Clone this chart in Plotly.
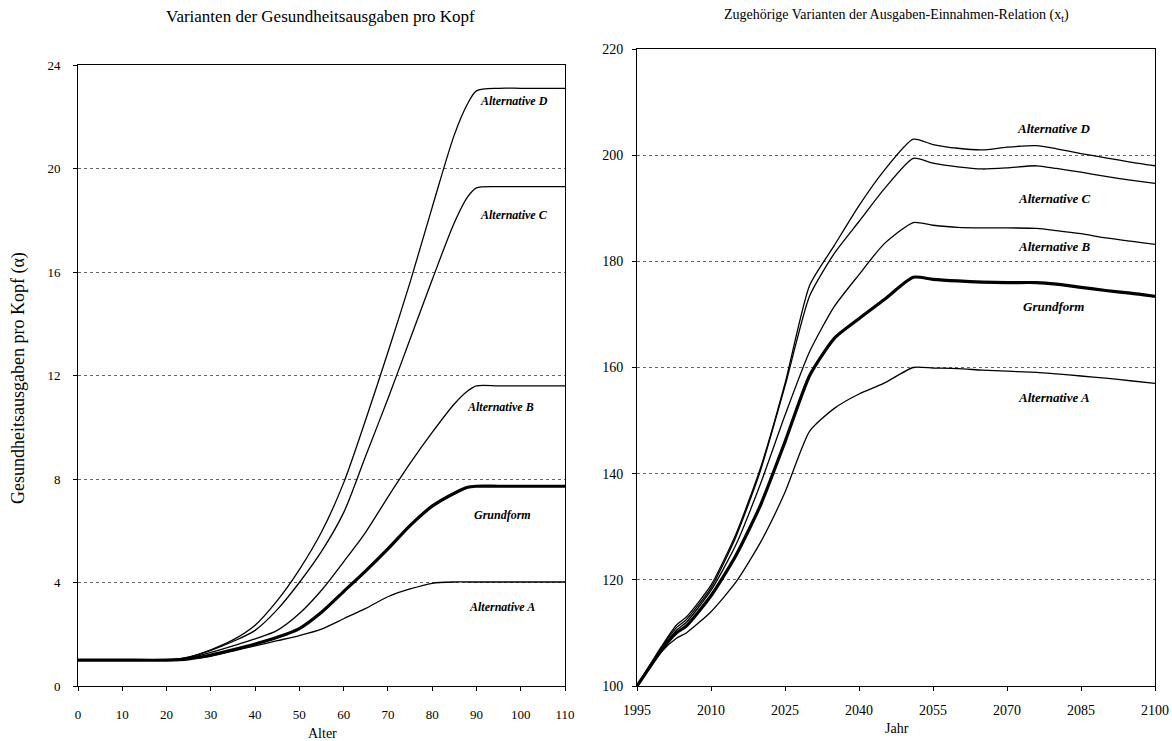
import plotly.graph_objects as go

# ---------- Left chart data: Gesundheitsausgaben pro Kopf (alpha) by age ----------
ages = [0, 10, 20, 25, 30, 35, 40, 45, 50, 55, 60, 65, 70, 75, 80, 85, 88, 90, 95, 100, 105, 110]
left_D = [1, 1, 1, 1.12, 1.4, 1.78, 2.35, 3.3, 4.5, 5.95, 7.85, 10.3, 12.9, 15.6, 18.5, 21.3, 22.5, 23.0, 23.1, 23.1, 23.1, 23.1]
left_C = [1, 1, 1, 1.12, 1.38, 1.72, 2.15, 2.95, 4.0, 5.2, 6.7, 8.9, 11.1, 13.4, 15.7, 17.9, 18.9, 19.25, 19.3, 19.3, 19.3, 19.3]
left_B = [1, 1, 1, 1.08, 1.3, 1.55, 1.82, 2.15, 2.8, 3.7, 4.8, 5.95, 7.3, 8.6, 9.8, 10.9, 11.4, 11.6, 11.6, 11.6, 11.6, 11.6]
left_G = [1, 1, 1, 1.05, 1.2, 1.4, 1.62, 1.88, 2.22, 2.85, 3.65, 4.45, 5.3, 6.2, 6.95, 7.45, 7.68, 7.72, 7.72, 7.72, 7.72, 7.72]
left_A = [1, 1, 1, 1.04, 1.15, 1.35, 1.55, 1.75, 1.95, 2.2, 2.6, 3.0, 3.45, 3.75, 3.97, 4.02, 4.02, 4.02, 4.02, 4.02, 4.02, 4.02]

left_xticks = [0, 10, 20, 30, 40, 50, 60, 70, 80, 90, 100, 110]
left_yticks = [0, 4, 8, 12, 16, 20, 24]

# ---------- Right chart data: Ausgaben-Einnahmen-Relation (x_t) by year ----------
years = [1995, 2000, 2003, 2005, 2010, 2015, 2020, 2025, 2030, 2035, 2040, 2045, 2051,
         2055, 2060, 2065, 2070, 2076, 2080, 2085, 2090, 2095, 2100]
right_D = [100, 107.5, 111.5, 113, 119, 128.5, 141, 157, 175.5, 183, 190.5, 197, 203,
           202, 201.3, 201, 201.5, 201.8, 201.2, 200.3, 199.5, 198.7, 198]
right_C = [100, 107.3, 111, 112.5, 118.5, 128, 140.5, 156.5, 173.5, 181.5, 187.5, 193.5, 199.4,
           198.5, 197.8, 197.4, 197.6, 198, 197.5, 196.8, 196, 195.3, 194.7]
right_B = [100, 107, 110.5, 112, 118, 126.5, 138, 151, 163, 171.5, 177.5, 183.2, 187.3,
           186.8, 186.4, 186.3, 186.3, 186.2, 185.8, 185.2, 184.4, 183.8, 183.2]
right_G = [100, 106.8, 110, 111.3, 117, 124.5, 134, 146, 158.5, 165.5, 169.2, 172.7, 177,
           176.6, 176.3, 176.1, 176, 176, 175.7, 175.1, 174.5, 174, 173.4]
right_A = [100, 106.5, 109, 110, 114, 119.5, 127, 136.5, 148, 152.3, 155, 157, 160,
           159.9, 159.8, 159.5, 159.3, 159.1, 158.8, 158.4, 158, 157.5, 157]

right_xticks = [1995, 2010, 2025, 2040, 2055, 2070, 2085, 2100]
right_yticks = [100, 120, 140, 160, 180, 200, 220]

labels = ["Alternative D", "Alternative C", "Alternative B", "Grundform", "Alternative A"]
left_label_x = [90.3, 90.3, 87.4, 88.9, 87.8]
left_label_y = [22.6, 18.2, 10.8, 6.6, 3.05]
right_label_x = 2079.5
right_label_y = [205.1, 191.9, 182.7, 171.4, 154.4]

FONT = "Liberation Serif"
W, H = 1172, 741

fig = go.Figure()

left_series = [left_D, left_C, left_B, left_G, left_A]
right_series = [right_D, right_C, right_B, right_G, right_A]
widths = [1.3, 1.3, 1.3, 3.2, 1.3]

for name, ys, w in zip(labels, left_series, widths):
    fig.add_trace(go.Scatter(x=ages, y=ys, mode="lines", name=name,
                             line=dict(color="black", width=w, shape="spline", smoothing=0.8),
                             xaxis="x", yaxis="y", showlegend=False))
for name, ys, w in zip(labels, right_series, widths):
    fig.add_trace(go.Scatter(x=years, y=ys, mode="lines", name=name,
                             line=dict(color="black", width=w, shape="spline", smoothing=0.6),
                             xaxis="x2", yaxis="y2", showlegend=False))

def px_x(p):
    return p / W

def px_y(p):
    return 1 - p / H

def axis_common(size, standoff):
    return dict(
        showline=True, linecolor="black", linewidth=1, mirror=True,
        ticks="outside", ticklen=4, tickcolor="black",
        tickfont=dict(family=FONT, size=size, color="black"),
        ticklabelstandoff=standoff,
        zeroline=False, automargin=False,
    )

fig.update_layout(
    width=W, height=H,
    margin=dict(l=0, r=0, t=0, b=0, autoexpand=False),
    paper_bgcolor="white", plot_bgcolor="white",
    font=dict(family=FONT, color="black"),
    xaxis=dict(domain=[px_x(78), px_x(565)], range=[0, 110], tickvals=left_xticks,
               showgrid=False, anchor="y", **axis_common(13, 12)),
    yaxis=dict(domain=[px_y(686), px_y(65)], range=[0, 24], tickvals=left_yticks,
               showgrid=True, gridcolor="#666", griddash="dot", gridwidth=1,
               anchor="x", **axis_common(13, 10)),
    xaxis2=dict(domain=[px_x(637), px_x(1155)], range=[1995, 2100], tickvals=right_xticks,
                showgrid=False, anchor="y2", **axis_common(14, 7)),
    yaxis2=dict(domain=[px_y(686), px_y(49)], range=[100, 220], tickvals=right_yticks,
                showgrid=True, gridcolor="#666", griddash="dot", gridwidth=1,
                anchor="x2", **axis_common(14, 6)),
)

annotations = [
    dict(text="Varianten der Gesundheitsausgaben pro Kopf", x=px_x(320), y=px_y(17),
         xref="paper", yref="paper", showarrow=False, xanchor="center", yanchor="middle",
         font=dict(family=FONT, size=17)),
    dict(text="Zugehörige Varianten der Ausgaben-Einnahmen-Relation (x<sub>t</sub>)", x=px_x(896), y=px_y(16),
         xref="paper", yref="paper", showarrow=False, xanchor="center", yanchor="middle",
         font=dict(family=FONT, size=14)),
    dict(text="Alter", x=px_x(322), y=px_y(733), xref="paper", yref="paper", showarrow=False,
         xanchor="center", yanchor="middle", font=dict(family=FONT, size=14)),
    dict(text="Jahr", x=px_x(897), y=px_y(728), xref="paper", yref="paper", showarrow=False,
         xanchor="center", yanchor="middle", font=dict(family=FONT, size=14)),
    dict(text="Gesundheitsausgaben pro Kopf (α)", x=px_x(18), y=px_y(378), xref="paper", yref="paper",
         showarrow=False, textangle=-90, xanchor="center", yanchor="middle",
         font=dict(family=FONT, size=18)),
]
for lab, lx, ly in zip(labels, left_label_x, left_label_y):
    annotations.append(dict(text="<b><i>%s</i></b>" % lab, x=lx, y=ly, xref="x", yref="y",
                            showarrow=False, xanchor="left", yanchor="middle",
                            font=dict(family=FONT, size=12)))
for lab, ly in zip(labels, right_label_y):
    annotations.append(dict(text="<b><i>%s</i></b>" % lab, x=right_label_x, y=ly, xref="x2", yref="y2",
                            showarrow=False, xanchor="center", yanchor="middle",
                            font=dict(family=FONT, size=13)))
fig.update_layout(annotations=annotations)

fig.write_html("out.html")
